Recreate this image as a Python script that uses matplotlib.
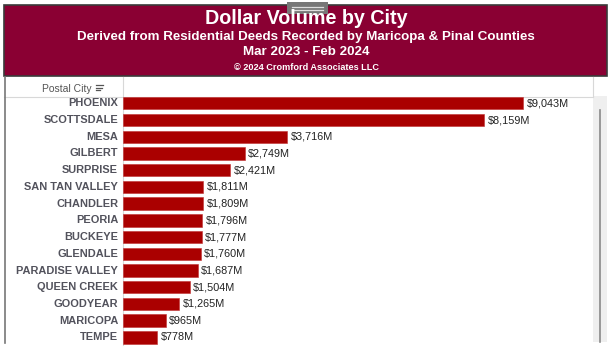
import matplotlib
matplotlib.use("Agg")
import matplotlib.pyplot as plt
from matplotlib.patches import Rectangle
from matplotlib.lines import Line2D

cities = ["PHOENIX", "SCOTTSDALE", "MESA", "GILBERT", "SURPRISE", "SAN TAN VALLEY",
          "CHANDLER", "PEORIA", "BUCKEYE", "GLENDALE", "PARADISE VALLEY", "QUEEN CREEK",
          "GOODYEAR", "MARICOPA", "TEMPE"]
volumes = [9043, 8159, 3716, 2749, 2421, 1811, 1809, 1796, 1777, 1760, 1687, 1504, 1265, 965, 778]
value_labels = ["$9,043M", "$8,159M", "$3,716M", "$2,749M", "$2,421M", "$1,811M", "$1,809M",
                "$1,796M", "$1,777M", "$1,760M", "$1,687M", "$1,504M", "$1,265M", "$965M", "$778M"]

title = "Dollar Volume by City"
subtitle = "Derived from Residential Deeds Recorded by Maricopa & Pinal Counties"
period = "Mar 2023 - Feb 2024"
copyright_txt = "\u00a9 2024 Cromford Associates LLC"

plt.rcParams['font.family'] = ['Liberation Sans', 'DejaVu Sans']

W, H = 612, 352
fig = plt.figure(figsize=(W / 100, H / 100), dpi=100)
fig.patch.set_facecolor("white")

def fx(px):
    return px / W

def fy(py):
    return 1 - py / H

# overlay axes in pixel coordinates for decoration
deco = fig.add_axes([0, 0, 1, 1])
deco.set_xlim(0, W)
deco.set_ylim(H, 0)
deco.axis("off")

# header band
deco.add_patch(Rectangle((4, 4.5), 603, 71.5, facecolor="#8a0033", edgecolor="#3a3a3a", lw=1.2, zorder=1))
# handle at top
deco.add_patch(Rectangle((287, 2), 41, 12, facecolor="#777777", edgecolor="none", zorder=2))
deco.add_line(Line2D([292, 323], [6.5, 6.5], color="#dddddd", lw=0.9, zorder=3))
deco.add_line(Line2D([292, 323], [9.5, 9.5], color="#dddddd", lw=0.9, zorder=3))

deco.text(306, 18.5, title, color="white", fontsize=14.2, fontweight="bold", ha="center", va="center")
deco.text(306, 37, subtitle, color="white", fontsize=9.6, fontweight="bold", ha="center", va="center")
deco.text(306, 52, period, color="white", fontsize=9.6, fontweight="bold", ha="center", va="center")
deco.text(306, 67, copyright_txt, color="white", fontsize=6.6, fontweight="bold", ha="center", va="center")

# table header row
deco.text(92, 88.5, "Postal City", color="#555555", fontsize=7.5, ha="right", va="center")
for i, (x0, x1) in enumerate([(96, 103), (96, 101.5), (96, 100)]):
    yy = 85 + i * 2.6
    deco.add_line(Line2D([x0, x1], [yy, yy], color="#555555", lw=0.9))
deco.add_line(Line2D([4, 593], [96.5, 96.5], color="#d8d8d8", lw=0.8))
deco.add_line(Line2D([122.5, 122.5], [77, 345], color="#d8d8d8", lw=0.8))
deco.add_line(Line2D([593, 593], [77, 96], color="#d8d8d8", lw=0.8))
# left border
deco.add_line(Line2D([4.5, 4.5], [77, 343], color="#777777", lw=1.2))
# scrollbar
deco.add_patch(Rectangle((593, 96), 14, 246, facecolor="#efefef", edgecolor="none"))
deco.add_line(Line2D([600, 600], [110, 342], color="#8a8a8a", lw=1.2))

# bar axes
left_px, right_px, top_px, bot_px = 123, 593, 97, 346
ax = fig.add_axes([fx(left_px), fy(bot_px), fx(right_px - left_px), (bot_px - top_px) / H])
ax.set_facecolor("none")
pitch = 16.72
y0 = 103.3
ypos = list(range(len(cities)))
ax.barh(ypos, volumes, height=0.74, color="#aa0000", edgecolor="#c03030", linewidth=0.4)
xmax = 9043 * (right_px - left_px) / (523 - left_px)
ax.set_xlim(0, xmax)
ax.set_ylim((bot_px - y0) / pitch, (top_px - y0) / pitch)
ax.axis("off")

for i, (v, lab, c) in enumerate(zip(volumes, value_labels, cities)):
    ax.annotate(lab, (v, i), xytext=(2.5, 0), textcoords="offset points",
                fontsize=7.8, color="#222222", ha="left", va="center")
    ax.annotate(c, (0, i), xytext=(-3.5, 0), textcoords="offset points",
                fontsize=7.9, fontweight="bold", color="#52525c", ha="right", va="center",
                annotation_clip=False)

fig.savefig("out.png", dpi=100)
